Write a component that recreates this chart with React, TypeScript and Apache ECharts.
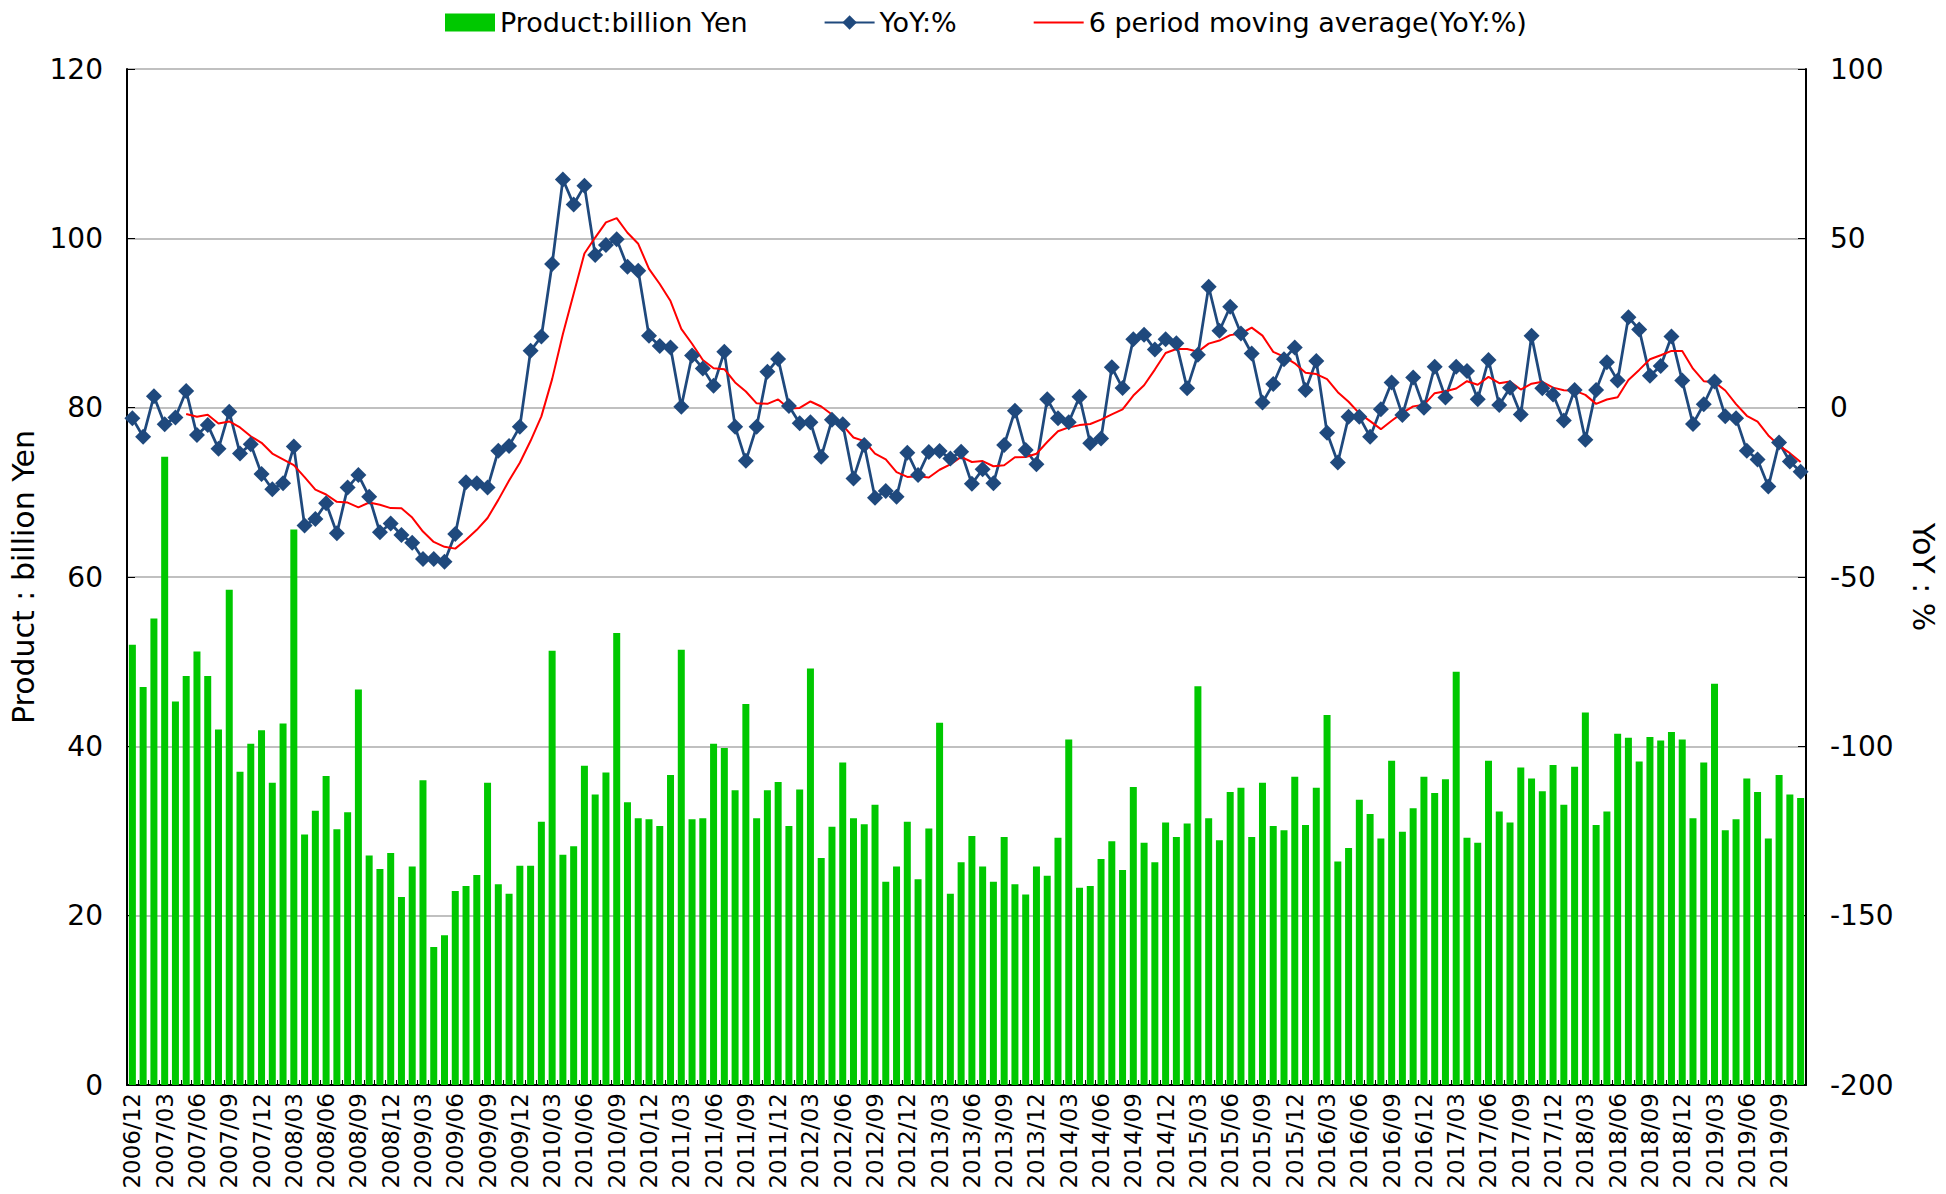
import React, { useEffect, useRef } from "react";
import * as echarts from "echarts";

// Monthly categories 2006/12 .. 2019/11
const categories: string[] = (() => {
  const out: string[] = [];
  let y = 2006;
  let m = 12;
  while (!(y === 2019 && m === 12)) {
    out.push(`${y}/${m < 10 ? "0" + m : m}`);
    m++;
    if (m > 12) {
      m = 1;
      y++;
    }
  }
  return out;
})();

// Product: billion Yen (left axis)
const productValues: number[] = [
  52.0, 47.0, 55.1, 74.2, 45.3, 48.3, 51.2, 48.3, 42.0, 58.5, 37.0, 40.3,
  41.9, 35.7, 42.7, 65.6, 29.6, 32.4, 36.5, 30.2, 32.2, 46.7, 27.1, 25.5,
  27.4, 22.2, 25.8, 36.0, 16.3, 17.7, 22.9, 23.5, 24.8, 35.7, 23.7, 22.6,
  25.9, 25.9, 31.1, 51.3, 27.2, 28.2, 37.7, 34.3, 36.9, 53.4, 33.4, 31.5,
  31.4, 30.6, 36.6, 51.4, 31.4, 31.5, 40.3, 39.8, 34.8, 45.0, 31.5, 34.8,
  35.8, 30.6, 34.9, 49.2, 26.8, 30.5, 38.1, 31.5, 30.8, 33.1, 24.0, 25.8,
  31.1, 24.3, 30.3, 42.8, 22.6, 26.3, 29.4, 25.8, 24.0, 29.3, 23.7, 22.5,
  25.8, 24.7, 29.2, 40.8, 23.3, 23.5, 26.7, 28.8, 25.4, 35.2, 28.6, 26.3,
  31.0, 29.3, 30.9, 47.1, 31.5, 28.9, 34.6, 35.1, 29.3, 35.7, 30.6, 30.1,
  36.4, 30.7, 35.1, 43.7, 26.4, 28.0, 33.7, 32.0, 29.1, 38.3, 29.9, 32.7,
  36.4, 34.5, 36.1, 48.8, 29.2, 28.6, 38.3, 32.3, 31.0, 37.5, 36.2, 34.7,
  37.8, 33.1, 37.6, 44.0, 30.7, 32.3, 41.5, 41.0, 38.2, 41.1, 40.7, 41.7,
  40.8, 31.5, 38.1, 47.4, 30.1, 31.4, 36.2, 34.6, 29.1, 36.6, 34.3, 33.9,
];

// YoY: % (right axis)
const yoyValues: number[] = [
  -3.1, -8.6, 3.4, -4.9, -2.9, 4.9, -8.1, -5.1, -12.1, -1.2, -13.5, -10.8,
  -19.6, -24.1, -22.3, -11.5, -34.8, -32.9, -28.2, -37.1, -23.6, -19.9, -26.3, -36.8,
  -34.2, -37.6, -39.9, -44.7, -44.7, -45.5, -37.3, -22.0, -22.3, -23.6, -12.7, -11.3,
  -5.6, 16.8, 21.0, 42.4, 67.4, 60.0, 65.5, 45.1, 48.0, 49.7, 41.6, 40.4,
  21.2, 18.2, 17.8, 0.3, 15.4, 11.6, 6.5, 16.5, -5.6, -15.7, -5.6, 10.6,
  14.4, 0.5, -4.6, -4.3, -14.5, -3.6, -4.9, -20.9, -11.0, -26.6, -24.6, -26.3,
  -13.3, -19.9, -13.1, -12.8, -15.0, -13.0, -22.5, -18.2, -22.3, -11.0, -0.9, -12.5,
  -16.7, 2.5, -3.1, -4.3, 3.2, -10.5, -9.1, 11.9, 5.8, 20.2, 21.5, 17.2,
  20.2, 19.0, 5.7, 15.6, 35.7, 22.7, 29.8, 21.9, 16.0, 1.5, 7.0, 14.3,
  17.8, 5.2, 13.8, -7.4, -16.2, -2.7, -2.7, -8.6, -0.5, 7.4, -2.2, 8.9,
  0.0, 12.1, 3.0, 12.1, 10.8, 2.5, 14.1, 0.8, 5.9, -2.0, 21.2, 5.7,
  3.9, -3.8, 5.2, -9.5, 5.2, 13.4, 8.0, 26.7, 23.1, 9.4, 12.3, 21.0,
  8.0, -4.8, 1.0, 7.7, -2.5, -3.1, -12.7, -15.3, -23.3, -10.3, -15.9, -18.9,
];

// 6 period moving average (YoY: %) (right axis)
const maValues: (number | null)[] = [
  null, null, null, null, null, -1.87, -2.70, -2.12, -4.70, -4.08, -5.85, -8.47,
  -10.38, -13.55, -15.25, -16.97, -20.52, -24.20, -25.63, -27.80, -28.02, -29.42, -28.00, -28.65,
  -29.65, -29.73, -32.45, -36.58, -39.65, -41.10, -41.62, -39.02, -36.08, -32.57, -27.23, -21.53,
  -16.25, -9.78, -2.57, 8.43, 21.78, 33.67, 45.52, 50.23, 54.73, 55.95, 51.65, 48.38,
  41.00, 36.52, 31.48, 23.25, 18.88, 14.08, 11.63, 11.35, 7.45, 4.78, 1.28, 1.12,
  2.43, -0.23, -0.07, 1.83, 0.35, -2.02, -5.23, -8.80, -9.87, -13.58, -15.27, -19.05,
  -20.45, -20.28, -20.63, -18.33, -16.73, -14.52, -16.05, -15.77, -17.30, -17.00, -14.65, -14.57,
  -13.60, -10.15, -6.95, -5.83, -5.15, -4.82, -3.55, -1.98, -0.50, 3.58, 6.63, 11.25,
  16.13, 17.32, 17.30, 16.53, 18.90, 19.82, 21.42, 21.90, 23.62, 21.27, 16.48, 15.08,
  13.08, 10.30, 9.93, 8.45, 4.58, 1.75, -1.67, -3.97, -6.35, -3.88, -1.55, 0.38,
  0.83, 4.28, 4.87, 5.65, 7.82, 6.75, 9.10, 7.22, 7.70, 5.35, 7.08, 7.62,
  5.92, 5.15, 5.03, 3.78, 1.12, 2.40, 3.08, 8.17, 11.15, 14.30, 15.48, 16.75,
  16.75, 11.50, 7.82, 7.53, 5.07, 1.05, -2.40, -4.15, -8.20, -11.20, -13.43, -16.07,
];

const leftTicks = { min: 0, max: 120, interval: 20 };
const rightTicks = { min: -200, max: 100, interval: 50 };

const FONT = "DejaVu Sans, Verdana, sans-serif";

export default function App() {
  const ref = useRef<HTMLDivElement>(null);

  useEffect(() => {
    if (!ref.current) return;
    const chart = echarts.init(ref.current, null, { renderer: "svg" });
    chart.setOption({
      animation: false,
      backgroundColor: "#ffffff",
      textStyle: { fontFamily: FONT, color: "#000" },
      legend: {
        top: 4,
        left: 440,
        itemWidth: 50,
        itemHeight: 18,
        itemGap: 76,
        textStyle: { fontFamily: FONT, fontSize: 27, color: "#000" },
        data: [
          { name: "Product:billion Yen", icon: "rect" },
          { name: "YoY:%" },
          { name: "6 period moving average(YoY:%)", itemStyle: { opacity: 0 } },
        ],
      },
      grid: { left: 127, right: 138, top: 69, bottom: 109, containLabel: false },
      xAxis: {
        type: "category",
        data: categories,
        boundaryGap: true,
        axisLine: { show: true, lineStyle: { color: "#000", width: 2 } },
        axisTick: { show: true, inside: true, length: 5, interval: 0, lineStyle: { color: "#000" } },
        axisLabel: {
          rotate: 90,
          interval: 2,
          fontSize: 23,
          fontFamily: FONT,
          color: "#000",
          margin: 8,
        },
        splitLine: { show: false },
      },
      yAxis: [
        {
          type: "value",
          position: "left",
          min: leftTicks.min,
          max: leftTicks.max,
          interval: leftTicks.interval,
          name: "Product : billion Yen",
          nameLocation: "middle",
          nameGap: 86,
          nameTextStyle: { fontSize: 30, fontFamily: FONT, color: "#000" },
          axisLine: { show: true, lineStyle: { color: "#000", width: 2 } },
          axisTick: { show: true, inside: true, length: 8, lineStyle: { color: "#000" } },
          axisLabel: { fontSize: 28, fontFamily: FONT, color: "#000", margin: 24 },
          splitLine: { show: true, lineStyle: { color: "#c0c0c0", width: 2 } },
        },
        {
          type: "value",
          position: "right",
          min: rightTicks.min,
          max: rightTicks.max,
          interval: rightTicks.interval,
          name: "YoY : %",
          nameLocation: "middle",
          nameRotate: -90,
          nameGap: 102,
          nameTextStyle: { fontSize: 30, fontFamily: FONT, color: "#000" },
          axisLine: { show: true, lineStyle: { color: "#000", width: 2 } },
          axisTick: { show: true, inside: true, length: 8, lineStyle: { color: "#000" } },
          axisLabel: { fontSize: 28, fontFamily: FONT, color: "#000", margin: 24 },
          splitLine: { show: false },
        },
      ],
      series: [
        {
          name: "Product:billion Yen",
          type: "bar",
          yAxisIndex: 0,
          data: productValues,
          barWidth: 7,
          itemStyle: { color: "#00c800" },
        },
        {
          name: "YoY:%",
          type: "line",
          yAxisIndex: 1,
          data: yoyValues,
          symbol: "diamond",
          symbolSize: 16,
          showAllSymbol: true,
          lineStyle: { color: "#1f497d", width: 2.75 },
          itemStyle: { color: "#1f497d" },
        },
        {
          name: "6 period moving average(YoY:%)",
          type: "line",
          yAxisIndex: 1,
          data: maValues,
          symbol: "none",
          showSymbol: false,
          connectNulls: false,
          lineStyle: { color: "#ff0000", width: 2 },
          itemStyle: { color: "#ff0000" },
        },
      ],
    });
    return () => chart.dispose();
  }, []);

  return (
    <div
      ref={ref}
      style={{ position: "fixed", left: 0, top: 0, width: 1946, height: 1194 }}
    />
  );
}
